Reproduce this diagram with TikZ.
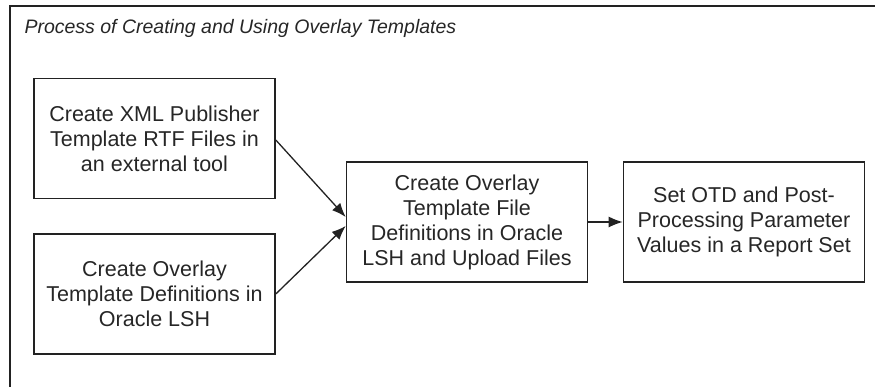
\documentclass[tikz,border=0pt]{standalone}
\usepackage{fontspec}
\setmainfont{Liberation Sans}
\usetikzlibrary{arrows.meta}
\definecolor{ln}{HTML}{222222}
\definecolor{tx}{HTML}{262626}
\begin{document}
\begin{tikzpicture}[x=1pt,y=-1pt,
  stepbox/.style={draw=ln,line width=1.6pt,minimum width=241pt,minimum height=120pt,inner sep=0pt,align=center,text=tx,font=\fontsize{21.5}{25}\selectfont},
  arr/.style={draw=ln,line width=1.3pt,-{Latex[length=14pt,width=11pt]}}]
\useasboundingbox (0,0) rectangle (875,387);
\draw[ln,line width=1.6pt] (10,387) coordinate (fbl) -- (10,6) coordinate (ftl) -- (875,6) coordinate (ftr);
\node[anchor=base west,text=tx,font=\fontsize{19.5}{24}\selectfont\itshape] (title) at (21,34) {Process of Creating and Using Overlay Templates};
\node[stepbox] (b1) at (154.5,138.5) {Create XML Publisher\\Template RTF Files in\\an external tool};
\node[stepbox] (b2) at (154.5,294) {Create Overlay\\Template Definitions in\\Oracle LSH};
\node[stepbox] (b3) at (467,222) {Create Overlay\\Template File\\Definitions in Oracle\\LSH and Upload Files};
\node[stepbox] (b4) at (744,222) {Set OTD and Post-\\Processing Parameter\\Values in a Report Set};
\draw[arr] ([yshift=-1.5pt]b1.east) -- ([yshift=5pt]b3.west);
\draw[arr] (b2.east) -- ([yshift=-4pt]b3.west);
\draw[arr] (b3.east) -- (b4.west);
\end{tikzpicture}
\end{document}
